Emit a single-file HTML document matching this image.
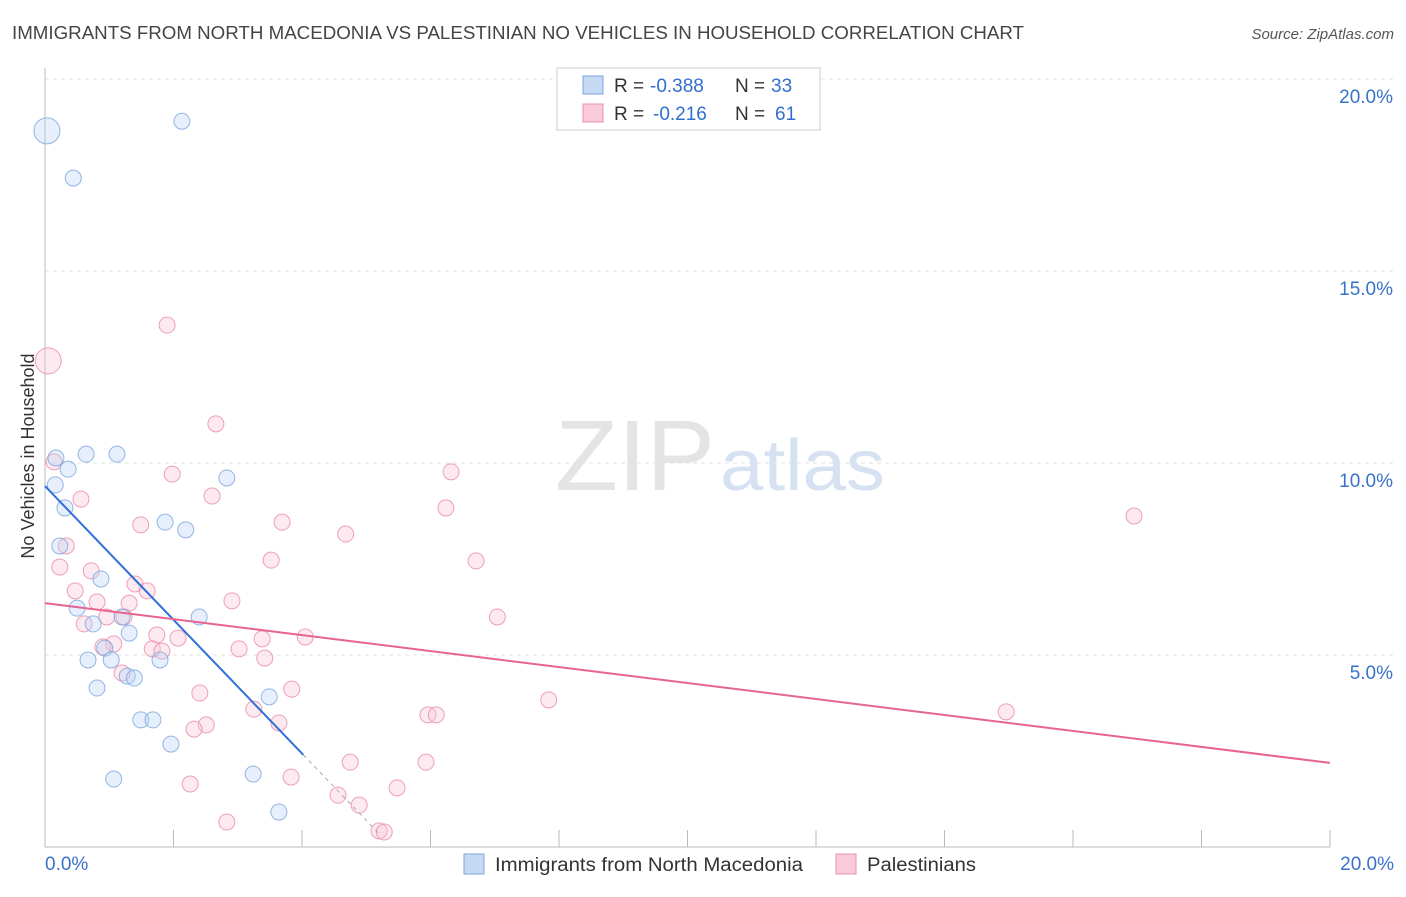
<!DOCTYPE html>
<html><head><meta charset="utf-8"><style>
body{margin:0;background:#fff;font-family:"Liberation Sans",sans-serif}
svg text{font-family:"Liberation Sans",sans-serif}
</style></head><body>
<svg id="chart" width="1406" height="892" xmlns="http://www.w3.org/2000/svg">
<text x="12" y="39" font-size="18" fill="#444" textLength="1012" lengthAdjust="spacingAndGlyphs">IMMIGRANTS FROM NORTH MACEDONIA VS PALESTINIAN NO VEHICLES IN HOUSEHOLD CORRELATION CHART</text>
<text x="1394" y="39" font-size="15" fill="#555" text-anchor="end" font-style="italic">Source: ZipAtlas.com</text>
<text x="555" y="490" font-size="100" fill="#e4e4e4" font-family="Liberation Serif" textLength="160" lengthAdjust="spacingAndGlyphs">ZIP</text>
<text x="720" y="490" font-size="72" fill="#d6e2f2" textLength="165" lengthAdjust="spacingAndGlyphs">atlas</text>
<text transform="translate(34,456) rotate(-90)" font-size="18" fill="#333" text-anchor="middle">No Vehicles in Household</text>
<g id="grid"></g><g id="marks"></g>
<g>
<rect x="557" y="68" width="263" height="62" fill="#fff" stroke="#ccc"/>
<rect x="583" y="76" width="20" height="18" fill="#c5d9f5" stroke="#7aa6e0"/>
<text x="614" y="92" font-size="19" fill="#333">R =</text>
<text x="650" y="92" font-size="19" fill="#2f6fd0">-0.388</text>
<text x="735" y="92" font-size="19" fill="#333">N =</text>
<text x="771" y="92" font-size="19" fill="#2f6fd0">33</text>
<rect x="583" y="104" width="20" height="18" fill="#f9cbd8" stroke="#e890aa"/>
<text x="614" y="120" font-size="19" fill="#333">R =</text>
<text x="653" y="120" font-size="19" fill="#2f6fd0">-0.216</text>
<text x="735" y="120" font-size="19" fill="#333">N =</text>
<text x="775" y="120" font-size="19" fill="#2f6fd0">61</text>
</g>
<g>
<rect x="464" y="854" width="20" height="20" fill="#c5d9f5" stroke="#7aa6e0"/>
<text x="495" y="871" font-size="19" fill="#333" textLength="308" lengthAdjust="spacingAndGlyphs">Immigrants from North Macedonia</text>
<rect x="836" y="854" width="20" height="20" fill="#f9cbd8" stroke="#e890aa"/>
<text x="867" y="871" font-size="19" fill="#333" textLength="109" lengthAdjust="spacingAndGlyphs">Palestinians</text>
</g>
</svg>
<script>
const yTicks=[5,10,15,20];
const yTickLabels=["5.0%","10.0%","15.0%","20.0%"];
const xLabels=["0.0%","20.0%"];
const blueX=[0.03,2.13,0.44,0.17,0.64,1.12,0.36,0.16,0.31,2.83,1.87,2.19,0.23,0.87,0.5,0.75,1.2,2.4,1.31,0.93,0.67,1.03,1.79,0.81,1.28,1.39,3.49,1.49,1.68,1.96,1.07,3.24,3.64];
const blueY=[18.65,18.9,17.42,10.13,10.23,10.23,9.84,9.43,8.83,9.61,8.46,8.26,7.84,6.98,6.22,5.81,5.99,5.99,5.57,5.18,4.87,4.87,4.87,4.14,4.45,4.4,3.91,3.31,3.31,2.68,1.77,1.9,0.91];
const pinkX=[0.05,1.9,2.66,0.14,6.32,1.98,0.56,2.6,6.24,16.95,1.49,3.69,4.68,0.33,0.23,3.52,6.71,0.72,1.4,1.59,0.47,0.81,1.31,2.91,7.04,0.96,1.23,0.61,1.74,2.07,3.38,4.05,1.07,0.9,1.67,3.02,1.82,3.42,1.2,2.41,3.84,7.84,3.25,14.96,5.96,6.09,2.51,2.32,3.64,4.75,5.93,2.26,3.83,4.56,4.89,5.48,2.83,5.2,5.28];
const pinkY=[12.66,13.59,11.02,10.03,9.77,9.71,9.06,9.14,8.83,8.62,8.39,8.46,8.15,7.84,7.29,7.47,7.45,7.19,6.85,6.67,6.67,6.38,6.35,6.41,5.99,5.99,5.99,5.81,5.52,5.44,5.42,5.47,5.29,5.21,5.16,5.16,5.1,4.92,4.53,4.01,4.11,3.83,3.59,3.52,3.44,3.44,3.18,3.07,3.23,2.21,2.21,1.64,1.82,1.35,1.09,1.54,0.65,0.42,0.39];
const blueTrend=[9.4,2.4];
const pinkTrend=[6.35,2.19];
const NS="http://www.w3.org/2000/svg";
const X=v=>45+v*64.25, Y=v=>847-v*38.4;
function mk(t,a,p){const e=document.createElementNS(NS,t);for(const k in a)e.setAttribute(k,a[k]);p.appendChild(e);return e;}
const grid=document.getElementById('grid'),marks=document.getElementById('marks');
yTicks.forEach((t,i)=>{
 const l=mk('line',{x1:45,x2:1394,y1:Y(t),y2:Y(t),stroke:'#e2e2e2','stroke-dasharray':'4,4'},grid);
 
 
 const tx=mk('text',{x:1393,y:Y(t)+24,'font-size':19,fill:'#3a72c9','text-anchor':'end'},grid);tx.textContent=yTickLabels[i];
 
 
});
mk('line',{x1:45,x2:45,y1:68,y2:847,stroke:'#bbb'},grid);
mk('line',{x1:45,x2:1330,y1:847,y2:847,stroke:'#bbb'},grid);
for(let i=0;i<=10;i++){mk('line',{x1:X(i*2),x2:X(i*2),y1:830,y2:847,stroke:'#bbb'},grid);}
[[0,'start',45],[20,'end',1394]].forEach((d,i)=>{const t=mk('text',{x:d[2],y:870,'font-size':19,fill:'#3a72c9','text-anchor':d[1]},grid);t.textContent=xLabels[i];
 
 });
function pts(xs,ys,fill,stroke,name){xs.forEach((x,i)=>{const big=i==0;const c=mk('circle',{cx:X(x),cy:Y(ys[i]),r:big?13:8,fill:fill,'fill-opacity':0.35,stroke:stroke,'stroke-width':1,'stroke-opacity':0.8},marks);
 
 });}
pts(pinkX,pinkY,'#f9c4d3','#e88aa8','palestinian-point');
pts(blueX,blueY,'#b8d1f3','#78a5de','macedonia-point');
const bs=(blueTrend[1]-blueTrend[0])/4.02;
const b1=mk('line',{x1:X(0),y1:Y(blueTrend[0]),x2:X(4.02),y2:Y(blueTrend[1]),stroke:'#2f6fd8','stroke-width':2},marks);


mk('line',{x1:X(4.02),y1:Y(blueTrend[1]),x2:X(5.2),y2:Y(blueTrend[0]+bs*5.2),stroke:'#aaa','stroke-width':1,'stroke-dasharray':'4,4'},marks);
const p1=mk('line',{x1:X(0),y1:Y(pinkTrend[0]),x2:X(20),y2:Y(pinkTrend[1]),stroke:'#e8638e','stroke-width':2},marks);


</script>
</body></html>
